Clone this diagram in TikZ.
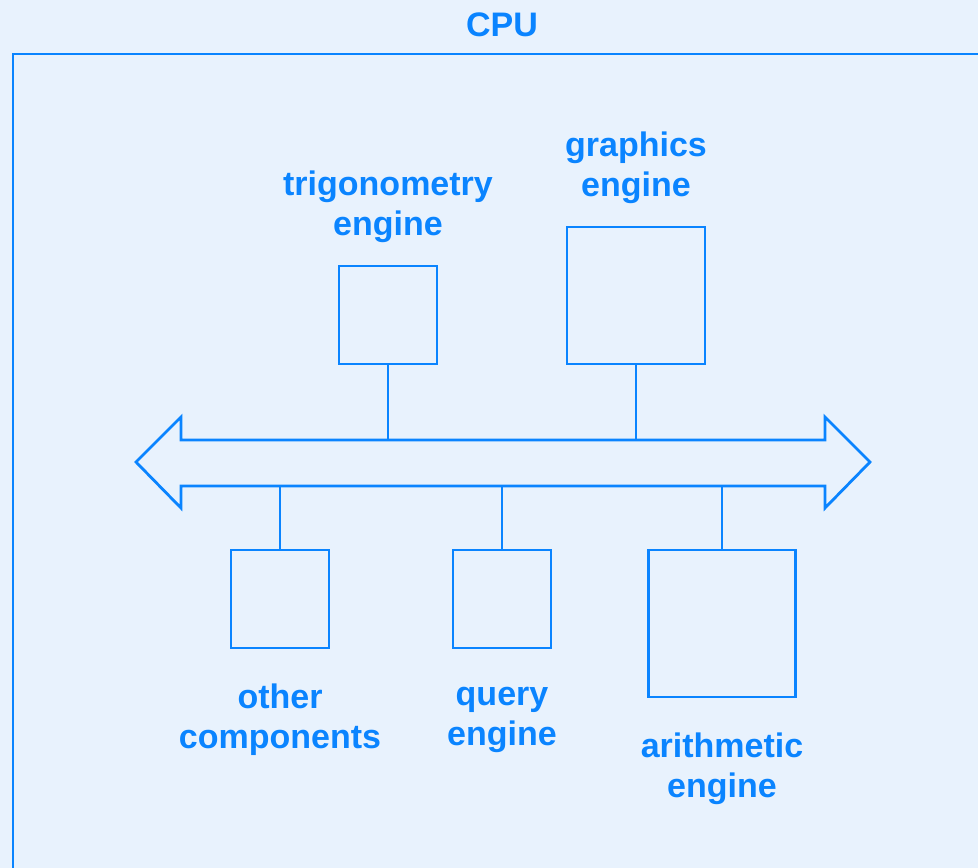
\documentclass[tikz,border=0pt]{standalone}
\usepackage{fontspec}
\setmainfont{Liberation Sans}
\definecolor{cpublue}{RGB}{10,132,255}
\definecolor{cpubg}{RGB}{232,242,253}

\tikzset{%
  unit/.style={
    rectangle,
    draw=cpublue,
    line width=2.8pt,
    inner sep=0pt
  },
  unit label/.style={
    text=cpublue,
    align=center,
    font=\fontsize{34}{40}\selectfont\bfseries
  },
  wire/.style={
    draw=cpublue,
    line width=2.8pt
  },
}

\begin{document}
\begin{tikzpicture}[x=1pt,y=-1pt]
\path[use as bounding box,fill=cpubg] (0,0) rectangle (978,868);
\clip (0,0) rectangle (978,868);
\draw[wire] (13,880) -- (13,54) -- (990,54);
\node[unit label] (cpu) at (502,25) {CPU};
% bus
\draw[wire,line join=miter] (136,462) -- (181,417) -- (181,440) -- (825,440) -- (825,417)
  -- (870,462) -- (825,508) -- (825,486) -- (181,486) -- (181,508) -- cycle;
\coordinate (bus top) at (0,440);
\coordinate (bus bottom) at (0,486);
% engines above the bus
\node[unit,minimum width=98pt,minimum height=98pt] (trig) at (388,315) {};
\node[unit,minimum width=138pt,minimum height=137pt] (graphics) at (636,295.5) {};
\node[unit label] (trig label) at (388,207) {trigonometry\\engine};
\node[unit label] (graphics label) at (636,168) {graphics\\engine};
\draw[wire] (trig.south) -- (trig.south |- bus top);
\draw[wire] (graphics.south) -- (graphics.south |- bus top);
% engines below the bus
\node[unit,minimum width=98pt,minimum height=98pt] (other) at (280,599) {};
\node[unit,minimum width=98pt,minimum height=98pt] (query) at (502,599) {};
\node[unit,minimum width=147pt,minimum height=147pt] (arith) at (722,623.5) {};
\node[unit label] (other label) at (280,720) {other\\components};
\node[unit label] (query label) at (502,720) {query\\engine};
\node[unit label] (arith label) at (722,769) {arithmetic\\engine};
\draw[wire] (other.north) -- (other.north |- bus bottom);
\draw[wire] (query.north) -- (query.north |- bus bottom);
\draw[wire] (arith.north) -- (arith.north |- bus bottom);
\end{tikzpicture}
\end{document}
